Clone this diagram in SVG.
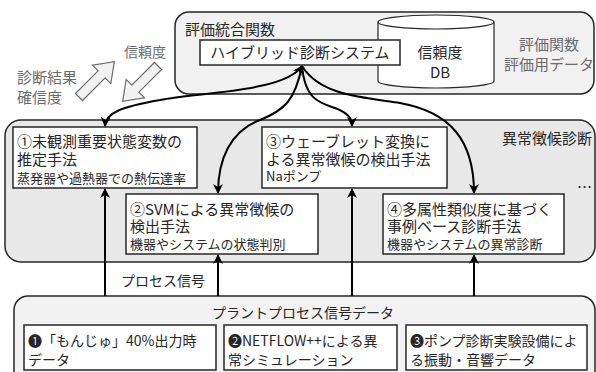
<svg xmlns="http://www.w3.org/2000/svg" width="596" height="372" viewBox="0 0 596 372">
<defs>
<style>
text{font-family:"Noto Sans CJK JP","Noto Sans",sans-serif;fill:#262626}
.t15{font-size:15px}
.t14{font-size:14px}
.t13{font-size:13px}
.g{fill:#6b6b6b}
.box{fill:#fff;stroke:#262626;stroke-width:1.5}
.grp{stroke:#262626;stroke-width:1.5}
.con{fill:none;stroke:#000;stroke-width:2}
.big{fill:#f2f2f2;stroke:#6b6b6b;stroke-width:1.2}
</style>
<marker id="ah" viewBox="0 0 10 10" refX="9" refY="5" markerWidth="5" markerHeight="5" orient="auto-start-reverse">
<path d="M0,0 L10,5 L0,10 L3,5 Z" fill="#000"/>
</marker>
</defs>
<rect width="596" height="372" fill="#fff"/>

<g id="evaluation">
<rect class="grp" x="175" y="12" width="419" height="82" rx="14" fill="#f1f1f1"/>
<text class="t15" x="185" y="35">評価統合関数</text>
<text class="t15 g" x="549" y="50" text-anchor="middle">評価関数</text>
<text class="t15 g" x="549" y="70" text-anchor="middle">評価用データ</text>
</g>

<g id="db">
<path d="M378,22 L378,81 A58,7 0 0 0 494,81 L494,22" fill="#fff" stroke="#262626" stroke-width="1.2"/>
<ellipse cx="436" cy="22" rx="58" ry="7" fill="#fff" stroke="#262626" stroke-width="1.2"/>
<text class="t15" x="440" y="58" text-anchor="middle">信頼度</text>
<text class="t15" x="440" y="78" text-anchor="middle">DB</text>
</g>

<g id="hybrid">
<rect class="box" x="200" y="40" width="200" height="25"/>
<text class="t15" x="300" y="58" text-anchor="middle">ハイブリッド診断システム</text>
</g>

<g id="feedback">
<polygon class="big" points="0,-5 32,-5 32,-13 50,0 32,13 32,5 0,5" transform="translate(79,97) rotate(-45)"/>
<polygon class="big" points="0,-5 32,-5 32,-13 50,0 32,13 32,5 0,5" transform="translate(158,66) rotate(135)"/>
<text class="t14 g" x="124" y="57">信頼度</text>
<text class="t15 g" x="17" y="83">診断結果</text>
<text class="t15 g" x="17" y="103">確信度</text>
</g>

<g id="anomaly">
<rect class="grp" x="5" y="120" width="590" height="142" rx="16" fill="#e8e8e8"/>
<text class="t15" x="502" y="144">異常徴候診断</text>
<text class="t15" x="577" y="193">…</text>
</g>

<g id="m1">
<rect class="box" x="13" y="127" width="184" height="61"/>
<text class="t15" x="17" y="147">①未観測重要状態変数の</text>
<text class="t15" x="17" y="165">推定手法</text>
<text class="t13" x="17" y="183">蒸発器や過熱器での熱伝達率</text>
</g>

<g id="m3">
<rect class="box" x="262" y="127" width="185" height="61"/>
<text class="t15" x="266" y="147">③ウェーブレット変換に</text>
<text class="t15" x="266" y="165">よる異常徴候の検出手法</text>
<text class="t13" x="266" y="181">Naポンプ</text>
</g>

<g id="m2">
<rect class="box" x="126" y="194" width="192" height="60"/>
<text class="t15" x="130" y="215">②SVMによる異常徴候の</text>
<text class="t15" x="130" y="232">検出手法</text>
<text class="t13" x="130" y="249">機器やシステムの状態判別</text>
</g>

<g id="m4">
<rect class="box" x="383" y="194" width="181" height="60"/>
<text class="t15" x="387" y="215">④多属性類似度に基づく</text>
<text class="t15" x="387" y="232">事例ベース診断手法</text>
<text class="t13" x="387" y="249">機器やシステムの異常診断</text>
</g>

<g id="plant">
<rect class="grp" x="14" y="296" width="581" height="100" rx="14" fill="#f2f2f2"/>
<text class="t14" x="303" y="318" text-anchor="middle">プラントプロセス信号データ</text>
</g>
<g id="d1">
<rect class="box" x="24" y="325" width="192" height="45"/>
<text class="t14" x="28" y="346">❶「もんじゅ」40%出力時</text>
<text class="t14" x="28" y="365">データ</text>
</g>
<g id="d2">
<rect class="box" x="224" y="325" width="173" height="45"/>
<text class="t14" x="228" y="346">❷NETFLOW++による異</text>
<text class="t14" x="228" y="365">常シミュレーション</text>
</g>
<g id="d3">
<rect class="box" x="406" y="325" width="181" height="45"/>
<text class="t14" x="410" y="346">❸ポンプ診断実験設備によ</text>
<text class="t14" x="410" y="365">る振動・音響データ</text>
</g>

<text class="t14" x="121" y="286">プロセス信号</text>

<g id="connectors">
<path class="con" d="M302,66 C 285,92 200,92 160,100 C 120,107 106,113 105,126" marker-start="url(#ah)" marker-end="url(#ah)"/>
<path class="con" d="M302,66 C 295,100 285,110 260,120 C 230,131 218,160 218,193" marker-end="url(#ah)"/>
<path class="con" d="M302,66 C 305,100 320,103 335,108 C 348,113 352,118 352,126" marker-end="url(#ah)"/>
<path class="con" d="M302,66 C 320,95 360,97 400,103 C 450,112 474,140 474,193" marker-end="url(#ah)"/>
<path class="con" d="M105,296 L105,189" marker-end="url(#ah)"/>
<path class="con" d="M218,296 L218,255" marker-end="url(#ah)"/>
<path class="con" d="M352,296 L352,189" marker-end="url(#ah)"/>
<path class="con" d="M474,296 L474,255" marker-end="url(#ah)"/>
</g>
</svg>
